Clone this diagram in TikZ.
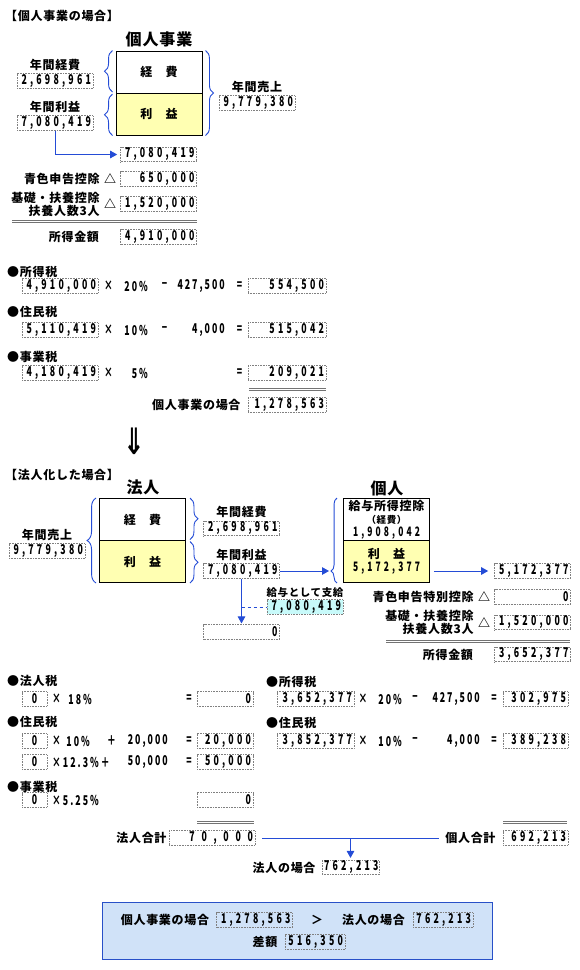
\documentclass[tikz,border=0pt]{standalone}
\usepackage{fontspec}
\setmainfont{Noto Sans CJK JP}[LetterSpace=6]
\newfontfamily\numfont{Noto Sans CJK JP}[FakeStretch=0.65,LetterSpace=24]
\newfontfamily\fmlfont{Noto Sans CJK JP}[FakeStretch=0.65,LetterSpace=15]
\newfontfamily\widenum{Noto Sans CJK JP}[FakeStretch=0.65,LetterSpace=50]
\newfontfamily\arrfont{DejaVu Sans}
\usepackage{tikz}
\usetikzlibrary{positioning,arrows.meta,decorations.pathreplacing}
\definecolor{lnblue}{RGB}{36,76,214}
\definecolor{profit}{RGB}{255,255,178}
\definecolor{paycyan}{RGB}{200,250,250}
\definecolor{sumfill}{RGB}{208,226,248}
\definecolor{sumedge}{RGB}{40,80,200}
\tikzset{
  >={Stealth[length=7pt,width=7.5pt,inset=0pt]},
  lbl/.style={font=\fontsize{12}{13}\selectfont\bfseries,inner sep=1pt},
  small/.style={font=\fontsize{10.5}{12}\selectfont\bfseries,inner sep=1pt},
  ttl/.style={font=\fontsize{16}{18}\selectfont\bfseries,inner sep=1pt},
  num/.style={font=\fontsize{13.5}{14}\selectfont\fmlfont\bfseries,inner sep=1pt},
  valbox/.style={draw=black!50,densely dotted,line width=0.6pt,fill=white,
    text width=#1,align=right,minimum height=14.5pt,inner xsep=2pt,inner ysep=0pt,
    font=\fontsize{13.5}{14}\selectfont\numfont\bfseries},
  valbox/.default=72pt,
  cell/.style={draw,line width=0.9pt,minimum width=86pt,minimum height=42pt,
    align=center,inner sep=1pt,font=\fontsize{12}{13}\selectfont\bfseries},
  brc/.style={draw=lnblue,line width=0.9pt,decorate,decoration={brace,amplitude=8pt}},
  link/.style={draw=lnblue,line width=1pt},
  flow/.style={->,link},
  dbl/.style={draw=black!55,line width=1pt,double=white,double distance=1pt},
}
\begin{document}
\begin{tikzpicture}[x=1pt,y=-1pt]
  \useasboundingbox (0,0) rectangle (580,970);
  \node[lbl,anchor=west] (hda) at (4,16) {【個人事業の場合】};
  \node[ttl] (ttla) at (159,39) {個人事業};
  \node[cell] (aexp) at (159,72) {経　費};
  \node[cell,fill=profit] (aprof) at (159,114) {利　益};
  \draw[brc] ([xshift=-3pt,yshift=1.5pt]aexp.south west) -- ([xshift=-3pt]aexp.north west);
  \draw[brc] ([xshift=-3pt]aprof.south west) -- ([xshift=-3pt,yshift=-1.5pt]aprof.north west);
  \draw[brc] ([xshift=3pt]aexp.north east) -- ([xshift=3pt]aprof.south east);
  \node[valbox] (aexpv) at (55,81) {2,698,961};
  \node[lbl,above=2pt of aexpv] (aexpl) {年間経費};
  \node[valbox] (aprofv) at (55,123) {7,080,419};
  \node[lbl,above=2pt of aprofv] (aprofl) {年間利益};
  \node[valbox] (asalev) at (257,103) {9,779,380};
  \node[lbl,above=2pt of asalev] (asalel) {年間売上};
  \node[valbox] (ainc) at (158.5,154.5) {7,080,419};
  \draw[flow,shorten >=3pt] (aprofv.south) |- (ainc.west);
  \node[valbox] (ablue) at (158.5,179) {650,000};
  \node[lbl,left=3pt of ablue] (abluet) {△};
  \node[lbl,left=2pt of abluet] (abluel) {青色申告控除};
  \node[valbox] (abas) at (158.5,204) {1,520,000};
  \node[lbl,left=3pt of abas] (abast) {△};
  \node[lbl,left=2pt of abast,align=right] (abasl) {基礎・扶養控除\\扶養人数3人};
  \draw[dbl] (12,221) -- (197,221);
  \node[valbox] (aincv) at (158.5,237) {4,910,000};
  \node[lbl,left=20pt of aincv] (aincl) {所得金額};

  \node[lbl,anchor=west] (itax) at (6,272) {●所得税};
  \node[valbox] (itaxb) at (60,286) {4,910,000};
  \node[num] (itaxm) at (108.5,286) {×};
  \node[num,anchor=east] (itaxr) at (149,286) {20\%};
  \node[num] (itaxs) at (164.5,286) {−};
  \node[num,anchor=east] (itaxc) at (226,286) {427,500};
  \node[num] (itaxe) at (239.5,286) {=};
  \node[valbox=74pt] (itaxv) at (287,286) {554,500};
  \node[lbl,anchor=west] (rtax) at (6,312) {●住民税};
  \node[valbox] (rtaxb) at (60,330) {5,110,419};
  \node[num] (rtaxm) at (108.5,330) {×};
  \node[num,anchor=east] (rtaxr) at (149,330) {10\%};
  \node[num] (rtaxs) at (164.5,330) {−};
  \node[num,anchor=east] (rtaxc) at (226,330) {4,000};
  \node[num] (rtaxe) at (239.5,330) {=};
  \node[valbox=74pt] (rtaxv) at (287,330) {515,042};
  \node[lbl,anchor=west] (btax) at (6,357) {●事業税};
  \node[valbox] (btaxb) at (60,373) {4,180,419};
  \node[num] (btaxm) at (108.5,373) {×};
  \node[num,anchor=east] (btaxr) at (149,373) {5\%};
  \node[num] (btaxe) at (239.5,373) {=};
  \node[valbox=74pt] (btaxv) at (287,373) {209,021};
  \draw[dbl] (249,389) -- (326,389);
  \node[valbox=74pt] (atot) at (287,405) {1,278,563};
  \node[lbl,left=6pt of atot] (atotl) {個人事業の場合};
  \node[font=\fontsize{26}{26}\selectfont\arrfont\bfseries,inner sep=0pt] (down) at (134,441) {\scalebox{1}[1.4]{⇓}};

  \node[lbl,anchor=west] (hdb) at (4,475) {【法人化した場合】};
  \node[ttl] (ttlb) at (143,487) {法人};
  \node[cell] (bexp) at (142.5,519.5) {経　費};
  \node[cell,fill=profit] (bprof) at (142.5,561.5) {利　益};
  \draw[brc,decoration={amplitude=9pt}] ([xshift=-3pt]bprof.south west) -- ([xshift=-3pt]bexp.north west);
  \draw[brc] ([xshift=4pt]bexp.north east) -- ([xshift=4pt,yshift=1.5pt]bexp.south east);
  \draw[brc] ([xshift=4pt,yshift=-1.5pt]bprof.north east) -- ([xshift=4pt]bprof.south east);
  \node[valbox] (bsalev) at (47,551) {9,779,380};
  \node[lbl,above=2pt of bsalev] (bsalel) {年間売上};
  \node[valbox] (bexpv) at (241.5,528.5) {2,698,961};
  \node[lbl,above=2pt of bexpv] (bexpl) {年間経費};
  \node[valbox] (bprofv) at (241.5,571) {7,080,419};
  \node[lbl,above=2pt of bprofv] (bprofl) {年間利益};
  \node[valbox] (bzero) at (241.5,632) {0};
  \node[valbox,fill=paycyan] (bpay) at (305,607) {7,080,419};
  \node[small,above=1pt of bpay] (bpayl) {給与として支給};
  \draw[flow,shorten >=1pt] (bprofv.south) -- (bzero.north);
  \draw[link,dashed] (bprofv.south |- bpay.west) -- (bpay.west);

  \node[ttl] (ttlc) at (387,488) {個人};
  \node[cell] (cexp) at (386.5,519.5) {給与所得控除\\{\fontsize{9.5}{13}\selectfont（経費）}\\{\fontsize{13}{13}\selectfont\numfont 1,908,042}};
  \node[cell,fill=profit] (cprof) at (386.5,561.5) {利　益\\{\fontsize{13}{13}\selectfont\numfont 5,172,377}};
  \coordinate (ctip) at ([xshift=-14pt]cprof.west |- bprofv.east);
  \draw[brc,decoration={amplitude=6pt,aspect=0.14}] ([xshift=-6pt]cprof.south west) -- ([xshift=-6pt]cexp.north west);
  \draw[flow] (bprofv.east) -- (ctip);
  \node[valbox] (cinc) at (532.5,571) {5,172,377};
  \draw[flow,shorten <=4pt,shorten >=6pt] (cprof.east |- cinc.west) -- (cinc.west);
  \node[valbox] (cblue) at (532.5,597) {0};
  \node[lbl,left=3pt of cblue] (cbluet) {△};
  \node[lbl,left=2pt of cbluet] (cbluel) {青色申告特別控除};
  \node[valbox] (cbas) at (532.5,622.5) {1,520,000};
  \node[lbl,left=3pt of cbas] (cbast) {△};
  \node[lbl,left=2pt of cbast,align=right] (cbasl) {基礎・扶養控除\\扶養人数3人};
  \draw[dbl] (386,641) -- (570,641);
  \node[valbox] (cincv) at (532.5,654.5) {3,652,377};
  \node[lbl,left=20pt of cincv] (cincl) {所得金額};

  \node[lbl,anchor=west] (ctax) at (6,681) {●法人税};
  \node[valbox=21pt,align=center] (ctaxb) at (34.5,699) {0};
  \node[num] (ctaxm) at (56.5,699) {×};
  \node[num,anchor=east] (ctaxr) at (93,699) {18\%};
  \node[num] (ctaxe) at (189,699) {=};
  \node[valbox=52pt] (ctaxv) at (225,699) {0};
  \node[lbl,anchor=west] (crtax) at (6,722) {●住民税};
  \node[valbox=21pt,align=center] (crtaxb) at (34.5,741) {0};
  \node[num] (crtaxm) at (56.5,741) {×};
  \node[num,anchor=east] (crtaxr) at (91,741) {10\%};
  \node[num] (crtaxp) at (111.5,741) {＋};
  \node[num,anchor=east] (crtaxc) at (169,741) {20,000};
  \node[num] (crtaxe) at (189,741) {=};
  \node[valbox=52pt] (crtaxv) at (225,741) {20,000};
  \node[valbox=21pt,align=center] (cctaxb) at (34.5,762) {0};
  \node[num,anchor=west] (cctaxr) at (51,762) {×12.3\%＋};
  \node[num,anchor=east] (cctaxc) at (169,762) {50,000};
  \node[num] (cctaxe) at (189,762) {=};
  \node[valbox=52pt] (cctaxv) at (225,762) {50,000};
  \node[lbl,anchor=west] (cbtax) at (6,787) {●事業税};
  \node[valbox=21pt,align=center] (cbtaxb) at (34.5,800) {0};
  \node[num,anchor=west] (cbtaxr) at (51,800) {×5.25\%};
  \node[valbox=52pt] (cbtaxv) at (225,800) {0};
  \draw[dbl] (197,822) -- (254,822);
  \node[valbox=82pt,font=\fontsize{13.5}{14}\selectfont\widenum\bfseries] (ctot) at (212,838) {70,000};
  \node[lbl,left=1pt of ctot] (ctotl) {法人合計};

  \node[lbl,anchor=west] (pitax) at (265,682) {●所得税};
  \node[valbox=73pt] (pitaxb) at (315.5,699) {3,652,377};
  \node[num] (pitaxm) at (363,699) {×};
  \node[num,anchor=east] (pitaxr) at (403,699) {20\%};
  \node[num] (pitaxs) at (415,699) {−};
  \node[num,anchor=east] (pitaxc) at (481,699) {427,500};
  \node[num] (pitaxe) at (494,699) {=};
  \node[valbox=61pt] (pitaxv) at (535.5,699) {302,975};
  \node[lbl,anchor=west] (prtax) at (265,723) {●住民税};
  \node[valbox=73pt] (prtaxb) at (315.5,741) {3,852,377};
  \node[num] (prtaxm) at (363,741) {×};
  \node[num,anchor=east] (prtaxr) at (403,741) {10\%};
  \node[num] (prtaxs) at (415,741) {−};
  \node[num,anchor=east] (prtaxc) at (481,741) {4,000};
  \node[num] (prtaxe) at (494,741) {=};
  \node[valbox=61pt] (prtaxv) at (535.5,741) {389,238};
  \draw[dbl] (503,822) -- (567,822);
  \node[valbox=61pt] (ptot) at (535.5,838) {692,213};
  \node[lbl,left=6pt of ptot] (ptotl) {個人合計};
  \draw[link,shorten <=7pt,shorten >=5pt] (ctot.east) -- (ptotl.west);
  \node[valbox=53pt] (bcase) at (350.5,867.5) {762,213};
  \node[lbl,left=5pt of bcase] (bcasel) {法人の場合};
  \draw[flow,shorten >=2pt] (bcase.north |- ctot.east) -- (bcase.north);

  \node[draw=sumedge,fill=sumfill,line width=1pt,minimum width=390pt,minimum height=57pt] (sumbg) at (297,930.5) {};
  \node[lbl] (suma) at (165,920) {個人事業の場合};
  \node[valbox,fill=none] (sumav) at (254.5,920) {1,278,563};
  \node[lbl] (sumgt) at (317,920) {＞};
  \node[lbl] (sumb) at (373.5,920) {法人の場合};
  \node[valbox=56pt,fill=none] (sumbv) at (443,920) {762,213};
  \node[lbl] (sumd) at (265,942) {差額};
  \node[valbox=56pt,fill=none] (sumdv) at (315,942) {516,350};
\end{tikzpicture}
\end{document}
